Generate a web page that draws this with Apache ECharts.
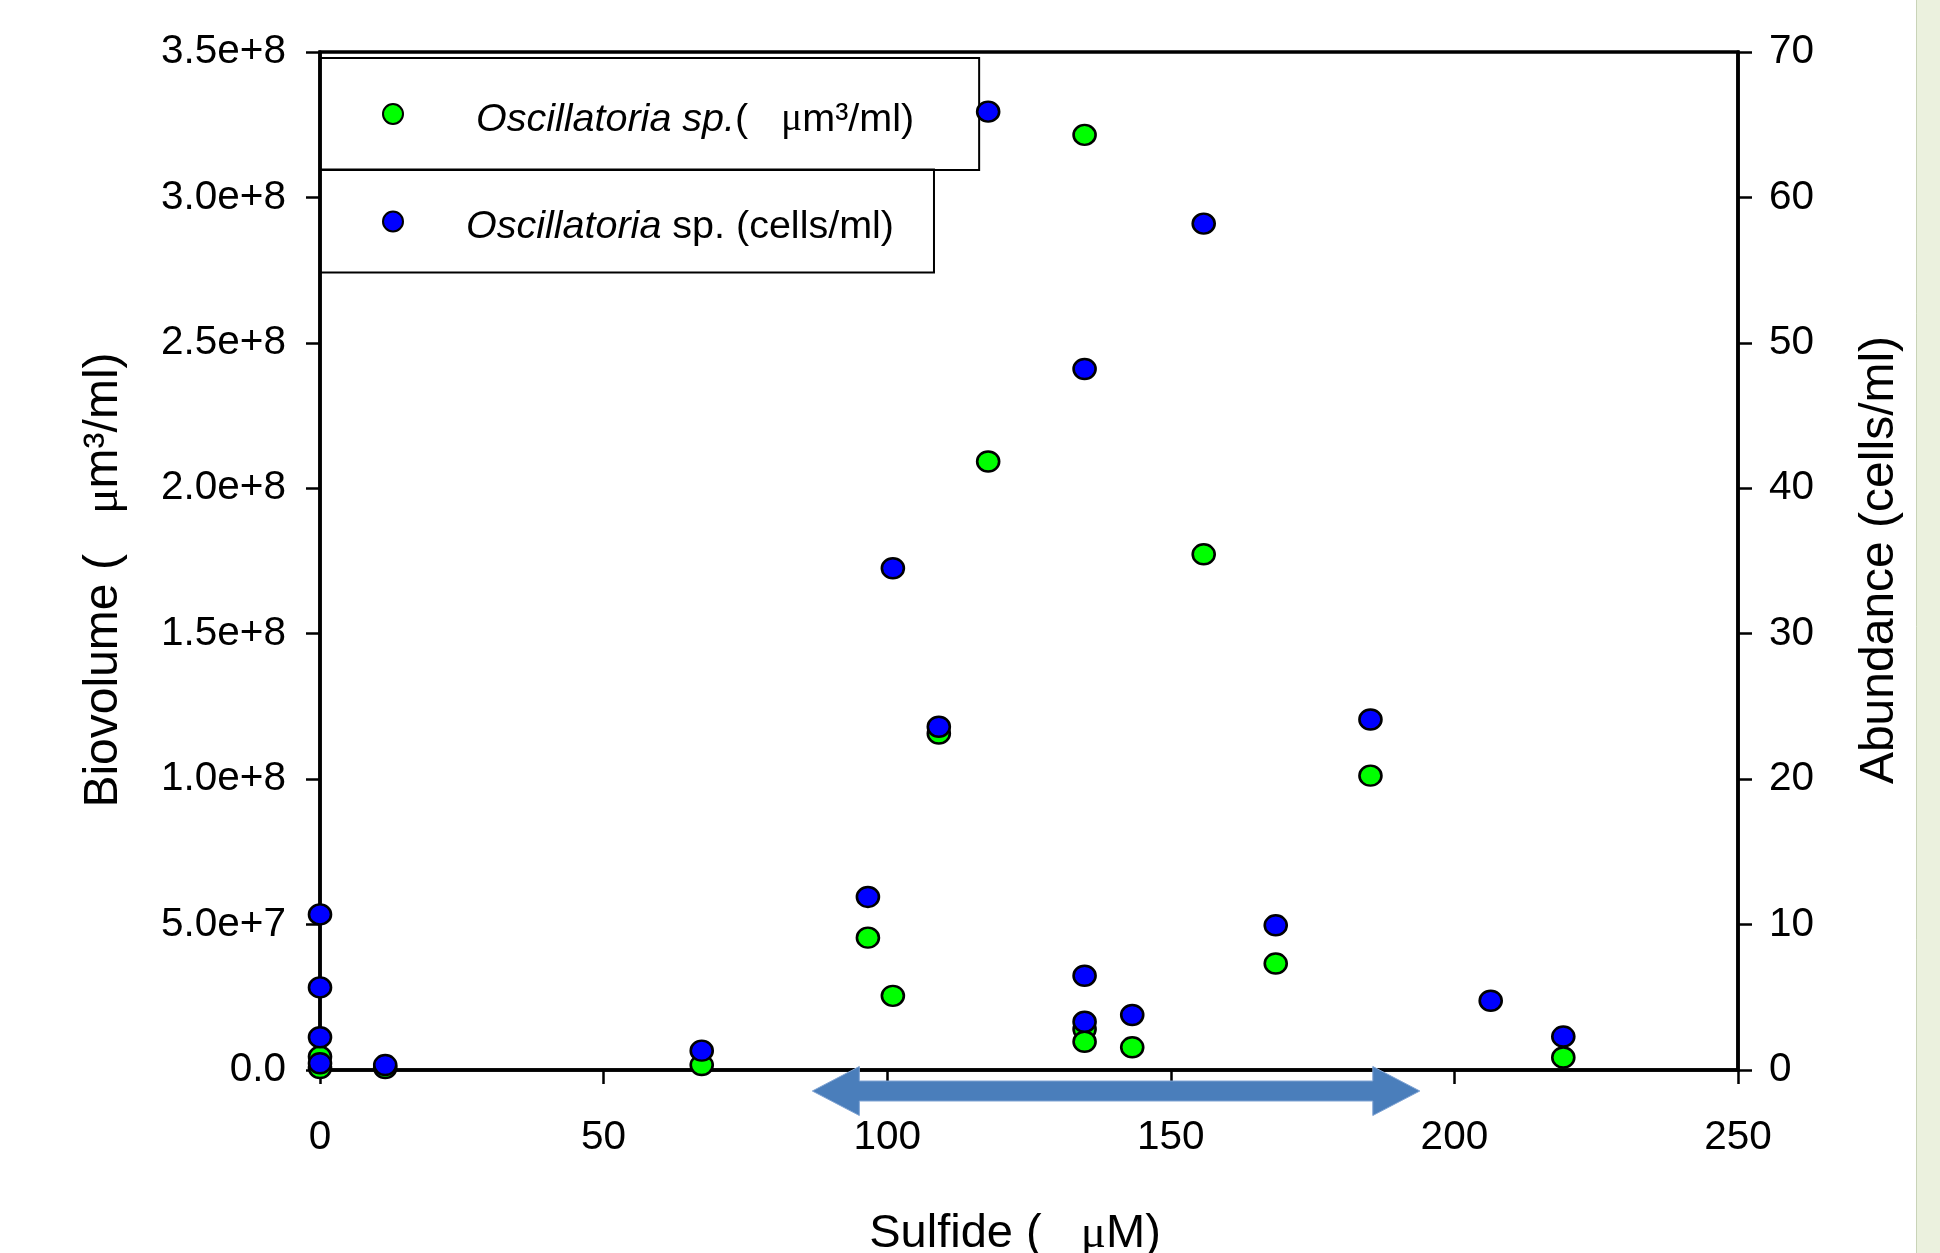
<!DOCTYPE html>
<html>
<head>
<meta charset="utf-8">
<title>Oscillatoria sp. vs sulfide</title>
<script src="https://cdn.jsdelivr.net/npm/echarts@6/dist/echarts.min.js"></script>
<style>
  html, body { margin: 0; padding: 0; background: #fff; }
  #chart { width: 1940px; height: 1253px; }
</style>
</head>
<body>
<div id="chart"></div>
<script>
// biovolume of Oscillatoria sp. (µm3/ml) against sulfide (µM)
const bioSulfide = [0, 0, 11.5, 67.3, 96.6, 101.0, 109.1, 117.8, 134.8, 134.8, 134.8, 143.2, 155.8, 168.5, 185.2, 219.2];
const bioVolume = [0.007e8, 0.046e8, 0.007e8, 0.017e8, 0.455e8, 0.255e8, 1.157e8, 2.092e8, 3.215e8, 0.14e8, 0.097e8, 0.078e8, 1.773e8, 0.366e8, 1.012e8, 0.043e8];

// abundance of Oscillatoria sp. (cells/ml) against sulfide (µM)
const cellSulfide = [0, 0, 0, 0, 11.5, 67.3, 96.6, 101.0, 109.1, 117.8, 134.8, 134.8, 134.8, 143.2, 155.8, 168.5, 185.2, 206.4, 219.2];
const cellAbundance = [10.7, 5.68, 2.25, 0.46, 0.34, 1.33, 11.9, 34.5, 23.6, 65.9, 48.2, 6.48, 3.32, 3.78, 58.2, 9.95, 24.1, 4.76, 2.3];

// sulfide range marked by the double arrow under the axis
const arrowRange = [86.8, 193.9];

// tick labels of the left axis (step 5e7)
const leftTickLabels = ['0.0', '5.0e+7', '1.0e+8', '1.5e+8', '2.0e+8', '2.5e+8', '3.0e+8', '3.5e+8'];

const FONT = "'Liberation Sans', Arial, sans-serif";
const MU = "'Liberation Serif', 'DejaVu Serif', serif";

const zip = (xs, ys) => xs.map((x, i) => [x, ys[i]]);

const chart = echarts.init(document.getElementById('chart'));

const tickLabel = { color: '#000', fontFamily: FONT, fontSize: 40.5 };
const nameStyle = (size, padding) => ({
    color: '#000', fontFamily: FONT, fontSize: size, padding: padding,
    rich: { mu: { fontFamily: MU, fontSize: size, color: '#000' } }
});
const legendText = {
    color: '#000', fontFamily: FONT, fontSize: 39.5, lineHeight: 40,
    padding: [12, 0, 0, 0],
    rich: {
        s1: { width: 67 },
        s2: { width: 57 },
        i: { fontFamily: FONT, fontSize: 39.5, fontStyle: 'italic', color: '#000' },
        mu: { fontFamily: MU, fontSize: 39.5, color: '#000' }
    }
};
const axisLine = { show: true, lineStyle: { color: '#000', width: 3.5 } };
const axisTick = { show: true, length: 14, lineStyle: { color: '#000', width: 2.5 } };

const option = {
    backgroundColor: '#fff',
    animation: false,
    grid: {
        left: 320, right: 202, top: 52, bottom: 183,
        containLabel: false, outerBoundsMode: 'none',
        show: true, borderColor: '#000', borderWidth: 3.5
    },
    legend: [
        {
            data: ['bio'], left: 320, top: 58,
            orient: 'horizontal', selectedMode: false,
            icon: 'circle', itemWidth: 22, itemHeight: 20, symbolKeepAspect: false,
            padding: [30, 65, 30, 62],
            borderColor: '#000', borderWidth: 2, backgroundColor: 'transparent',
            z: 1,
            formatter: () => '{s1| }{i|Oscillatoria sp.}(   {mu|μ}m³/ml)',
            textStyle: legendText
        },
        {
            data: ['cells'], left: 320, top: 169.5,
            orient: 'horizontal', selectedMode: false,
            icon: 'circle', itemWidth: 22, itemHeight: 20, symbolKeepAspect: false,
            padding: [26, 40, 25, 62],
            borderColor: '#000', borderWidth: 2, backgroundColor: 'transparent',
            z: 1,
            formatter: () => '{s2| }{i|Oscillatoria} sp. (cells/ml)',
            textStyle: legendText
        }
    ],
    xAxis: {
        type: 'value', min: 0, max: 250, interval: 50,
        name: 'Sulfide (   {mu|μ}M)', nameLocation: 'middle', nameGap: 141,
        nameTextStyle: nameStyle(47, [0, 28, 0, 0]),
        axisLine: axisLine,
        axisTick: axisTick,
        axisLabel: Object.assign({ margin: 47.5 }, tickLabel),
        splitLine: { show: false }
    },
    yAxis: [
        {
            type: 'value', min: 0, max: 3.5e8, interval: 5e7,
            name: 'Biovolume (   {mu|μ}m³/ml)', nameLocation: 'middle', nameGap: 192,
            nameTextStyle: nameStyle(48, [0, 38, 0, 0]),
            axisLine: axisLine,
            axisTick: axisTick,
            axisLabel: Object.assign({
                margin: 34, padding: [5, 0, 0, 0],
                formatter: v => leftTickLabels[Math.round(v / 5e7)]
            }, tickLabel),
            splitLine: { show: false }
        },
        {
            type: 'value', position: 'right', min: 0, max: 70, interval: 10,
            name: 'Abundance (cells/ml)', nameLocation: 'middle', nameGap: 118, nameRotate: 90,
            nameTextStyle: nameStyle(48, [0, 0, 0, 2]),
            axisLine: axisLine,
            axisTick: axisTick,
            axisLabel: Object.assign({ margin: 31, padding: [5, 0, 0, 0] }, tickLabel),
            splitLine: { show: false }
        }
    ],
    graphic: [
        { type: 'rect', z: -10, shape: { x: 1916, y: 0, width: 24, height: 1253 }, style: { fill: '#EBF1DE' } },
        { type: 'line', z: -10, shape: { x1: 1916.5, y1: 0, x2: 1916.5, y2: 1253 }, style: { stroke: '#C9D3B8', lineWidth: 1 } }
    ],
    series: [
        {
            name: 'bio', type: 'scatter', yAxisIndex: 0,
            symbol: 'circle', symbolSize: [22, 20],
            itemStyle: { color: '#00FF00', borderColor: '#000', borderWidth: 2.5, opacity: 1 },
            data: zip(bioSulfide, bioVolume),
            z: 3
        },
        {
            name: 'cells', type: 'scatter', yAxisIndex: 1,
            symbol: 'circle', symbolSize: [22, 20],
            itemStyle: { color: '#0000FF', borderColor: '#000', borderWidth: 2.5, opacity: 1 },
            data: zip(cellSulfide, cellAbundance),
            z: 4
        },
        {
            // double arrow below the x axis spanning the sulfide range
            name: 'range', type: 'custom', xAxisIndex: 0, yAxisIndex: 0,
            clip: false, silent: true, z: 5,
            encode: { x: [0, 1] },
            data: [arrowRange],
            renderItem: (params, api) => {
                const a = api.coord([api.value(0), 0]);
                const b = api.coord([api.value(1), 0]);
                const y = a[1] + 21, head = 47, hh = 24.5, sh = 10;
                return {
                    type: 'polygon',
                    shape: {
                        points: [
                            [a[0], y], [a[0] + head, y - hh], [a[0] + head, y - sh],
                            [b[0] - head, y - sh], [b[0] - head, y - hh], [b[0], y],
                            [b[0] - head, y + hh], [b[0] - head, y + sh],
                            [a[0] + head, y + sh], [a[0] + head, y + hh]
                        ]
                    },
                    style: { fill: '#4A7EBB', stroke: '#7FA3D3', lineWidth: 1 }
                };
            }
        }
    ]
};

chart.setOption(option);
window.addEventListener('resize', () => chart.resize());
</script>
</body>
</html>
